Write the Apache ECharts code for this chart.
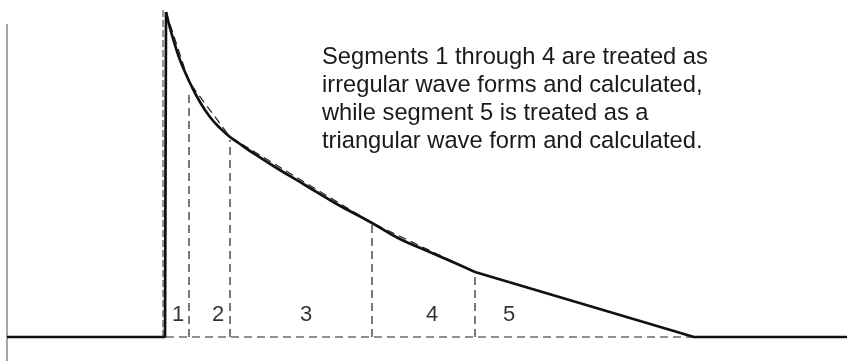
<!DOCTYPE html>
<html>
<head>
<meta charset="utf-8">
<script src="https://cdn.jsdelivr.net/npm/echarts@6/dist/echarts.min.js"></script>
<style>
  html, body { margin: 0; padding: 0; background: #fff; }
  #chart { width: 847px; height: 361px; }
</style>
</head>
<body>
<div id="chart"></div>
<script>
// wave form, x = time position, y = amplitude above the baseline
const baseLeft = [[7, 0], [165, 0], [166, 325]];
const decay = [[166, 325], [170, 309], [175, 292], [180, 277], [185, 265], [190, 254], [200, 235], [210, 220],
  [220, 209], [230, 200], [240, 193], [250, 186], [275, 170], [305, 152], [335, 134], [372, 114],
  [398, 99], [425, 87], [455, 74], [475, 65]];
const seg5 = [[475, 65], [694, 0], [847, 0]];

// straight-line approximation of each segment
const chords = [[166, 325], [189, 255], [230, 200], [372, 114], [475, 65], [694, 0]];
// segment boundaries: [x, height of dashed divider]
const dividers = [[163, 330], [189, 247], [230, 197], [372, 114], [475, 64]];
const dashBase = [[166, 0], [694, 0]];
const axisLine = [[7, 313], [7, -24]];

const segLabels = ['1', '2', '3', '4', '5'];
const segLabelX = [178, 218, 306, 432, 509];
const segLabelY = 22;

const note = 'Segments 1 through 4 are treated as\nirregular wave forms and calculated,\nwhile segment 5 is treated as a\ntriangular wave form and calculated.';

let chart = echarts.init(document.getElementById('chart'));

let series = [];
const solid = { color: '#111', width: 2.7 };
series.push({ type: 'line', data: baseLeft, symbol: 'none', lineStyle: solid, z: 5 });
series.push({ type: 'line', data: decay, symbol: 'none', smooth: 0.5, lineStyle: solid, z: 5 });
series.push({ type: 'line', data: seg5, symbol: 'none', lineStyle: solid, z: 5 });

const dash = { color: '#222', width: 1.2, type: [8, 5] };
series.push({ type: 'line', data: chords, symbol: 'none', lineStyle: dash, z: 3 });
series.push({ type: 'line', data: dashBase, symbol: 'none', lineStyle: dash, z: 3 });
dividers.forEach(function (d, i) {
  series.push({
    type: 'line', symbol: 'none', z: 3,
    data: [[d[0], 0], [d[0], d[1]]],
    lineStyle: i === 0 ? { color: '#999', width: 2, type: [7, 3] } : dash
  });
});
series.push({ type: 'line', data: axisLine, symbol: 'none', lineStyle: { color: '#888', width: 1.5 } });

series.push({
  type: 'scatter', symbolSize: 0,
  data: segLabels.map(function (s, i) { return { value: [segLabelX[i], segLabelY], name: s }; }),
  label: {
    show: true, position: 'inside', formatter: '{b}',
    fontFamily: 'Liberation Sans, Arial, sans-serif', fontSize: 22, color: '#000'
  }
});

chart.setOption({
  animation: false,
  grid: { left: 0, right: 0, top: 0, bottom: 0 },
  xAxis: { type: 'value', min: 0, max: 847, show: false },
  yAxis: { type: 'value', min: -24, max: 337, show: false },
  graphic: [{
    type: 'text', left: 322, top: 43,
    style: {
      text: note,
      fontFamily: 'Liberation Sans, Arial, sans-serif',
      fontSize: 23.7, lineHeight: 28, fill: '#1a1a1a'
    }
  }],
  series: series
});
</script>
</body>
</html>
